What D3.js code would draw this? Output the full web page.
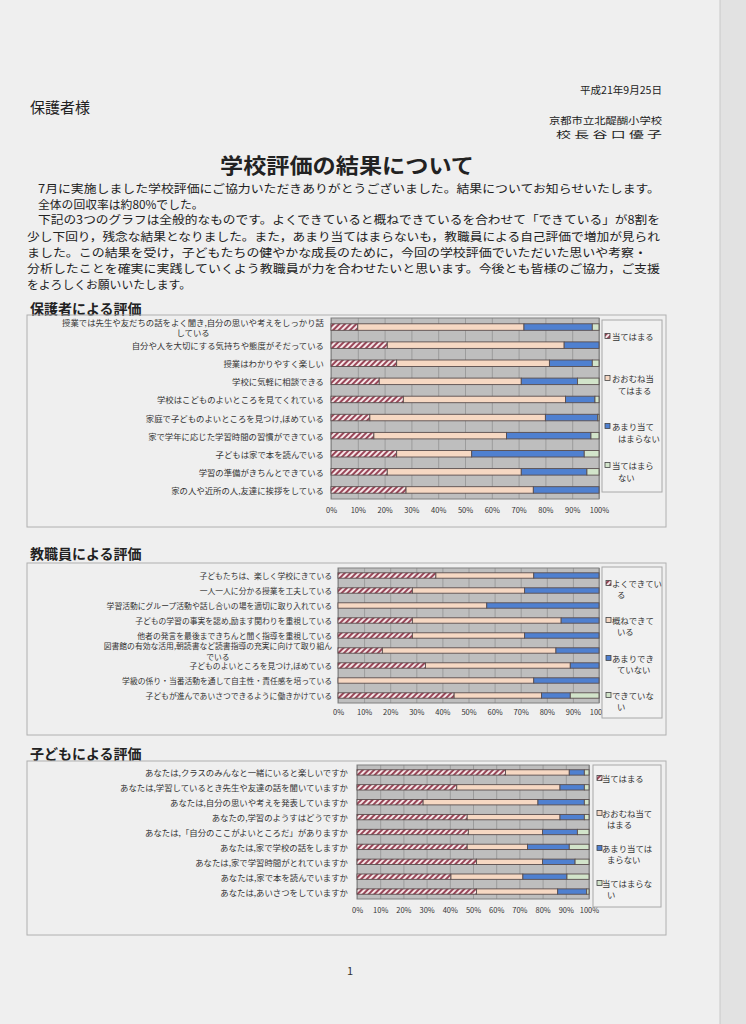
<!DOCTYPE html>
<html><head><meta charset="utf-8">
<script src="https://cdn.jsdelivr.net/npm/d3@7/dist/d3.min.js"></script>
<style>
body{margin:0;background:#efefef;}
svg{display:block;}
text{font-family:"Noto Sans CJK JP","Noto Sans",sans-serif;}
</style>
</head><body>
<svg id="c" width="746" height="1024"></svg>
<script>
// ---------- data ----------
const tickValues = [0,10,20,30,40,50,60,70,80,90,100];
const tickLabels = ["0%","10%","20%","30%","40%","50%","60%","70%","80%","90%","100%"];

const parentCats = [
  "授業では先生や友だちの話をよく聞き,自分の思いや考えをしっかり話\nしている",
  "自分や人を大切にする気持ちや態度がそだっている",
  "授業はわかりやすく楽しい",
  "学校に気軽に相談できる",
  "学校はこどものよいところを見てくれている",
  "家庭で子どものよいところを見つけ,ほめている",
  "家で学年に応じた学習時間の習慣ができている",
  "子どもは家で本を読んでいる",
  "学習の準備がきちんとできている",
  "家の人や近所の人,友達に挨拶をしている"
];
const parentA = [10,21,24.5,18,27,14.5,16,24.5,21,28];
const parentB = [62,66,57,53,60.5,65.5,49.5,28,50,47.5];
const parentC = [25.5,13,16,21,11,19.5,31.5,42,24.5,24.5];
const parentD = [2.5,0,2.5,8,1.5,0.5,3,5.5,4.5,0];
const parentLegend = ["当てはまる","おおむね当\nてはまる","あまり当て\nはまらない","当てはまら\nない"];

const staffCats = [
  "子どもたちは、楽しく学校にきている",
  "一人一人に分かる授業を工夫している",
  "学習活動にグループ活動や話し合いの場を適切に取り入れている",
  "子どもの学習の事実を認め,励ます関わりを重視している",
  "他者の発言を最後まできちんと聞く指導を重視している",
  "図書館の有効な活用,朝読書など読書指導の充実に向けて取り組ん\nでいる",
  "子どものよいところを見つけ,ほめている",
  "学級の係り・当番活動を通して自主性・責任感を培っている",
  "子どもが進んであいさつできるように働きかけている"
];
const staffA = [37.5,28.5,0,28.5,28.5,17,33.5,0,44.5];
const staffB = [37.5,43,57,57,43,66.5,55.5,75,33.5];
const staffC = [25,28.5,43,14.5,28.5,16.5,11,25,11];
const staffD = [0,0,0,0,0,0,0,0,11];
const staffLegend = ["よくできてい\nる","概ねできて\nいる","あまりでき\nていない","できていな\nい"];

const childCats = [
  "あなたは,クラスのみんなと一緒にいると楽しいですか",
  "あなたは,学習しているとき先生や友達の話を聞いていますか",
  "あなたは,自分の思いや考えを発表していますか",
  "あなたの,学習のようすはどうですか",
  "あなたは,「自分のここがよいところだ」がありますか",
  "あなたは,家で学校の話をしますか",
  "あなたは,家で学習時間がとれていますか",
  "あなたは,家で本を読んでいますか",
  "あなたは,あいさつをしていますか"
];
const childA = [64,43,28.5,47.5,48,47.5,51.5,40.5,51.5];
const childB = [27.5,44.5,49.5,40,32,26,28.5,31,35];
const childC = [6.5,10.5,20,10.5,15,18,14,19,12.5];
const childD = [2,2,2,2,5,8.5,6,9.5,1];
const childLegend = ["当てはまる","おおむね当て\nはまる","あまり当ては\nまらない","当てはまらな\nい"];

// ---------- page ----------
const svg = d3.select("#c");
const defs = svg.append("defs");
const pat = defs.append("pattern").attr("id","hatch").attr("width",4).attr("height",4)
  .attr("patternUnits","userSpaceOnUse").attr("patternTransform","rotate(45)");
pat.append("rect").attr("width",4).attr("height",4).attr("fill","#f6e6e8");
pat.append("rect").attr("width",2).attr("height",4).attr("fill","#9a4658");

svg.append("rect").attr("width",746).attr("height",1024).attr("fill","#efefef");
svg.append("rect").attr("x",720).attr("width",26).attr("height",1024).attr("fill","#e2e2e2");
svg.append("line").attr("x1",720).attr("x2",720).attr("y1",0).attr("y2",1024).attr("stroke","#c8c8c8");

function txt(x,y,s,size,opts={}){
  const t = svg.append("text").attr("x",x).attr("y",y).attr("dominant-baseline","central")
    .attr("font-size",size).attr("fill",opts.fill||"#222").text(s);
  if(opts.anchor) t.attr("text-anchor",opts.anchor);
  if(opts.weight) t.attr("font-weight",opts.weight);
  if(opts.len) t.attr("textLength",opts.len).attr("lengthAdjust","spacingAndGlyphs");
  return t;
}
txt(662,89,"平成21年9月25日",10,{anchor:"end",len:82});
txt(30,106,"保護者様",15);
txt(662,120,"京都市立北醍醐小学校",9.5,{anchor:"end",len:113});
txt(662,133.5,"校 長 谷 口 優 子",9.5,{anchor:"end",len:106});
txt(220,163.5,"学校評価の結果について",21,{weight:"bold",len:254});

const body = [
  [38,187.5,"7月に実施しました学校評価にご協力いただきありがとうございました。結果についてお知らせいたします。",622],
  [38,203,"全体の回収率は約80%でした。",null],
  [38,218.5,"下記の3つのグラフは全般的なものです。よくできていると概ねできているを合わせて「できている」が8割を",622],
  [27,235,"少し下回り，残念な結果となりました。また，あまり当てはまらないも，教職員による自己評価で増加が見られ",633],
  [27,251,"ました。この結果を受け，子どもたちの健やかな成長のために，今回の学校評価でいただいた思いや考察・",620],
  [27,267,"分析したことを確実に実践していくよう教職員が力を合わせたいと思います。今後とも皆様のご協力，ご支援",633],
  [27,283,"をよろしくお願いいたします。",null]
];
body.forEach(b=>txt(b[0],b[1],b[2],11.8,b[3]?{len:b[3]}:{}));

txt(30,308,"保護者による評価",14,{weight:"bold"});
txt(30,553,"教職員による評価",14,{weight:"bold"});
txt(30,753,"子どもによる評価",14,{weight:"bold"});
svg.append("text").attr("x",350).attr("y",970).attr("font-size",11).attr("fill","#333")
  .attr("text-anchor","middle").attr("dominant-baseline","central").text("1");

const fills = {a:"url(#hatch)", b:"#f6d8c3", c:"#4f80d0", d:"#d2e4ca"};
const keys = ["a","b","c","d"];

function chart(cfg){
  const g = svg.append("g");
  g.append("rect").attr("x",cfg.frame[0]).attr("y",cfg.frame[1])
    .attr("width",cfg.frame[2]-cfg.frame[0]).attr("height",cfg.frame[3]-cfg.frame[1])
    .attr("fill","none").attr("stroke","#b0b0b0");
  const x = d3.scaleLinear().domain([0,100]).range([cfg.plot[0],cfg.plot[2]]);
  const y = d3.scaleBand().domain(cfg.cats).range([cfg.plot[1],cfg.plot[3]])
    .paddingInner(0.64).paddingOuter(0.32);
  g.append("rect").attr("x",cfg.plot[0]).attr("y",cfg.plot[1])
    .attr("width",cfg.plot[2]-cfg.plot[0]).attr("height",cfg.plot[3]-cfg.plot[1])
    .attr("fill","#bebebe");
  const grid = g.append("g").attr("transform",`translate(0,${cfg.plot[3]})`)
    .call(d3.axisBottom(x).tickValues(tickValues).tickSize(-(cfg.plot[3]-cfg.plot[1])).tickFormat(""));
  grid.select(".domain").remove();
  grid.selectAll("line").attr("stroke","#9c9c9c");
  g.append("rect").attr("x",cfg.plot[0]).attr("y",cfg.plot[1])
    .attr("width",cfg.plot[2]-cfg.plot[0]).attr("height",cfg.plot[3]-cfg.plot[1])
    .attr("fill","none").attr("stroke","#808080");
  const rows = cfg.cats.map((c,i)=>({cat:c,a:cfg.A[i],b:cfg.B[i],c:cfg.C[i],d:cfg.D[i]}));
  const stacked = d3.stack().keys(keys)(rows);
  stacked.forEach(layer=>{
    g.append("g").selectAll("rect").data(layer.filter(d=>d[1]-d[0]>0)).join("rect")
      .attr("x",d=>x(d[0])).attr("width",d=>x(d[1])-x(d[0]))
      .attr("y",d=>y(d.data.cat)).attr("height",y.bandwidth())
      .attr("fill",fills[layer.key]).attr("stroke","#5a4e4e").attr("stroke-width",0.9);
  });
  cfg.cats.forEach(c=>{
    const lines = c.split("\n");
    const cy = y(c)+y.bandwidth()/2;
    const t = g.append("text").attr("dominant-baseline","central").attr("font-size",cfg.labelSize).attr("fill","#333");
    if(lines.length===1){
      t.attr("x",cfg.labelRight).attr("y",cy).attr("text-anchor","end").text(lines[0]);
    } else {
      const t1 = t.append("tspan").attr("x",0).attr("y",cy-cfg.twoOff).text(lines[0]);
      const t2 = t.append("tspan").attr("x",0).attr("y",cy+cfg.twoOff).text(lines[1]);
      const w1 = t1.node().getComputedTextLength(), w2 = t2.node().getComputedTextLength();
      t1.attr("x",cfg.labelRight-w1);
      t2.attr("x",cfg.labelRight-w1/2-w2/2);
    }
  });
  const ax = g.append("g").attr("transform",`translate(0,${cfg.axisY-5})`)
    .call(d3.axisBottom(x).tickValues(tickValues).tickFormat((d,i)=>tickLabels[i]).tickSize(0).tickPadding(0));
  ax.select(".domain").remove();
  ax.selectAll("text").attr("font-size",7.5).attr("fill","#333")
    .style("font-family",'"Noto Sans CJK JP",sans-serif');
  const lb = cfg.legendBox;
  g.append("rect").attr("x",lb[0]).attr("y",lb[1]).attr("width",lb[2]-lb[0]).attr("height",lb[3]-lb[1])
    .attr("fill","#f1f1f1").attr("stroke","#a8a8a8");
  cfg.legend.forEach((s,i)=>{
    const ly = cfg.legendY[i];
    g.append("rect").attr("x",cfg.markX).attr("y",ly-2.5).attr("width",5).attr("height",5)
      .attr("fill",fills[keys[i]]).attr("stroke","#444").attr("stroke-width",0.8);
    const t = g.append("text").attr("dominant-baseline","central").attr("font-size",8.4).attr("fill","#333");
    s.split("\n").forEach((ln,j)=>{
      t.append("tspan").attr("x",j===0?cfg.textX:cfg.text2X).attr("y",ly+j*cfg.legendLH).text(ln);
    });
  });
}

chart({cats:parentCats,A:parentA,B:parentB,C:parentC,D:parentD,legend:parentLegend,labelSize:8.4,
  frame:[27,315,666,527],plot:[331,318,599,499],axisY:513,labelRight:324,twoOff:5.2,
  legendBox:[602,320,662,492],legendY:[336,378,426,465],markX:605,textX:612,text2X:618,legendLH:11.5});
chart({cats:staffCats,A:staffA,B:staffB,C:staffC,D:staffD,legend:staffLegend,labelSize:7.8,
  frame:[27,563,666,735],plot:[338,568,599,703],axisY:715,labelRight:332,twoOff:5.1,
  legendBox:[602,567,662,718],legendY:[583,620,658,695],markX:606,textX:612,text2X:617,legendLH:11});
chart({cats:childCats,A:childA,B:childB,C:childC,D:childD,legend:childLegend,labelSize:8.4,
  frame:[27,761,666,935],plot:[357,765,589,899],axisY:913,labelRight:348,twoOff:5,
  legendBox:[593,765,661,907],legendY:[778,813,848,883],markX:597,textX:602,text2X:607,legendLH:11});
</script>
</body></html>
